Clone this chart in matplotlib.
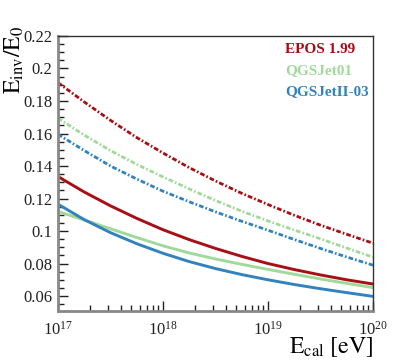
import matplotlib
matplotlib.use('Agg')
import matplotlib.pyplot as plt
from matplotlib.ticker import LogLocator, MultipleLocator, NullFormatter, FuncFormatter
import numpy as np

plt.rcParams['font.family'] = ['Liberation Serif', 'DejaVu Serif']
plt.rcParams['mathtext.fontset'] = 'stix'

# energia calorimetrica (log10 E/eV)
log_ecal = [17.0, 17.25, 17.5, 17.75, 18.0, 18.25, 18.5,
            18.75, 19.0, 19.25, 19.5, 19.75, 20.0]

# E_inv/E_0, linee continue
epos_solid = [0.1335, 0.1240, 0.1155, 0.1078, 0.1008, 0.0947, 0.0893,
              0.0844, 0.0800, 0.0763, 0.0730, 0.0700, 0.0674]
qgs01_solid = [0.1120, 0.1068, 0.1014, 0.0960, 0.0909, 0.0865, 0.0828,
               0.0795, 0.0764, 0.0734, 0.0705, 0.0678, 0.0652]
qgs2_solid = [0.1165, 0.1070, 0.0990, 0.0922, 0.0863, 0.0812, 0.0769,
              0.0732, 0.0700, 0.0671, 0.0645, 0.0621, 0.0598]

# linee tratto-punto
epos_dd = [0.1913, 0.1794, 0.1681, 0.1575, 0.1480, 0.1390, 0.1308,
           0.1232, 0.1163, 0.1097, 0.1036, 0.0980, 0.0925]
qgs01_dd = [0.1694, 0.1590, 0.1495, 0.1410, 0.1333, 0.1259, 0.1188,
            0.1122, 0.1062, 0.1006, 0.0952, 0.0895, 0.0839]
qgs2_dd = [0.1595, 0.1495, 0.1400, 0.1320, 0.1245, 0.1180, 0.1118,
           0.1060, 0.1005, 0.0948, 0.0893, 0.0840, 0.0790]

models = ['EPOS 1.99', 'QGSJet01', 'QGSJetII-03']
colors = ['#a50f15', '#a1d99b', '#3182bd']

fig = plt.figure(figsize=(4.15, 3.61), dpi=100)
ax = fig.add_axes([0.1398, 0.1385, 0.759, 0.7618])

ecal = 10 ** np.array(log_ecal)
solids = [epos_solid, qgs01_solid, qgs2_solid]
dashdots = [epos_dd, qgs01_dd, qgs2_dd]
# ordine di disegno: verde sotto, poi blu, rosso sopra
for i in [1, 2, 0]:
    ax.plot(ecal, dashdots[i], color=colors[i], lw=2.0,
            linestyle=(0, (1.7, 0.75, 0.6, 0.75)))
for i in [1, 2, 0]:
    ax.plot(ecal, solids[i], color=colors[i], lw=2.1)

ax.set_xscale('log')
ax.set_xlim(1e17, 1e20)
ax.set_ylim(0.0508, 0.22)

ax.yaxis.set_major_locator(MultipleLocator(0.02))
ax.yaxis.set_minor_locator(MultipleLocator(0.005))
ax.yaxis.set_major_formatter(FuncFormatter(lambda v, p: f'{v:g}'))
ax.xaxis.set_major_locator(LogLocator(base=10, numticks=10))
ax.xaxis.set_minor_locator(LogLocator(base=10, subs=np.arange(2, 10), numticks=20))
ax.xaxis.set_minor_formatter(NullFormatter())

ax.tick_params(which='both', direction='in', top=False, right=False,
               labelsize=12, colors='#222222')
ax.tick_params(which='major', length=7, width=1)
ax.tick_params(which='minor', length=4, width=1)
ax.tick_params(axis='y', pad=4)
ax.tick_params(axis='x', pad=7)

for s in ['left', 'bottom']:
    ax.spines[s].set_color('#888888')
    ax.spines[s].set_linewidth(2)
for s in ['top', 'right']:
    ax.spines[s].set_color('#333333')
    ax.spines[s].set_linewidth(1)

# titoli degli assi in stile ROOT
fig.text(14 / 415, 1 - 26 / 361, r'$\mathrm{E_{inv}/E_{0}}$', fontsize=17,
         rotation=90, ha='center', va='top')
fig.text(373 / 415, 1 - 347 / 361, r'$\mathrm{E_{cal}\ [eV]}$', fontsize=17,
         ha='right', va='center')

# legenda come testo colorato
leg_y = [0.9516, 0.8738, 0.7975]
for name, c, yy in zip(models, colors, leg_y):
    ax.text(0.72, yy, name, transform=ax.transAxes, color=c,
            fontsize=11, fontweight='bold', va='center', ha='left')

fig.savefig('out.png', dpi=100)
